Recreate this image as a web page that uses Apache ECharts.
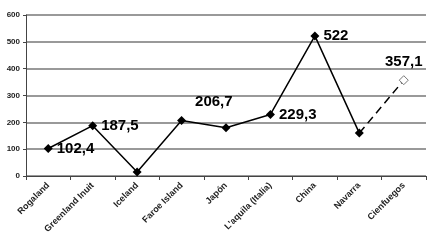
<!DOCTYPE html>
<html><head><meta charset="utf-8">
<script src="https://cdn.jsdelivr.net/npm/echarts@6/dist/echarts.min.js"></script>
<style>html,body{margin:0;padding:0;background:#fff}#c{width:433px;height:250px}</style>
</head><body><div id="c"></div>
<script>
const categories = ['Rogaland','Greenland Inuit','Iceland','Faroe Island','Japón',"L'aquila (Italia)",'China','Navarra','Cienfuegos'];
const values = [102.4, 187.5, 15, 206.7, 180, 229.3, 522, 160, 357.1];
const labelled = [0, 1, 3, 5, 6, 8];
const yTicks = [0, 100, 200, 300, 400, 500, 600];

const fmt = v => String(v).replace('.', ',');
const labelPos = {0:'right',1:'right',3:[18,-22],5:'right',6:'right',8:'top'};

const solid = values.map((v,i) => {
  if (i > 7) return null;
  const item = {value: v};
  if (labelled.includes(i)) {
    item.label = {show: true, position: labelPos[i], formatter: p => fmt(p.value)};
  }
  return item;
});
const dashed = values.map((v,i) => {
  if (i < 7) return null;
  const item = {value: v};
  if (i === 8) {
    item.label = {show: true, position: labelPos[i], offset:[0,-2], formatter: p => fmt(p.value)};
    item.symbol = 'diamond';
    item.itemStyle = {color: '#fff', borderColor: '#777', borderWidth: 1};
    item.symbolSize = 9;
  } else {
    item.symbol = 'none';
  }
  return item;
});

const labelStyle = {fontFamily: 'Liberation Sans Narrow, Liberation Sans, sans-serif', fontWeight: 'bold', fontSize: 15, color: '#000', distance: 4};

const chart = echarts.init(document.getElementById('c'), null, {renderer: 'canvas'});
chart.setOption({
  animation: false,
  grid: {left: 26, right: 7, top: 15, bottom: 74},
  xAxis: {
    type: 'category', data: categories, boundaryGap: true,
    axisLine: {lineStyle: {color: '#444', width: 1}},
    axisTick: {show: true, length: 4, lineStyle: {color: '#444'}},
    axisLabel: {rotate: 45, interval: 0, fontSize: 9, fontWeight: 'bold', color: '#222', fontFamily: 'Liberation Sans Narrow, Liberation Sans, sans-serif', margin: 8}
  },
  yAxis: {
    type: 'value', min: 0, max: 600, interval: 100,
    axisLine: {show: true, lineStyle: {color: '#444', width: 1}},
    axisTick: {show: true, length: 3, lineStyle: {color: '#444'}},
    splitLine: {lineStyle: {color: '#777', width: 1.5}},
    axisLabel: {fontSize: 8, fontWeight: 'bold', color: '#222', fontFamily: 'Liberation Sans, sans-serif', margin: 6,
      formatter: v => yTicks.includes(v) ? String(v) : ''}
  },
  series: [
    {type: 'line', data: solid, symbol: 'diamond', symbolSize: 9,
     itemStyle: {color: '#000'}, lineStyle: {color: '#000', width: 1.5}, label: labelStyle, z: 3},
    {type: 'line', data: dashed, symbolSize: 9,
     itemStyle: {color: '#000'}, lineStyle: {color: '#000', width: 1.5, type: [8, 5]}, label: labelStyle, z: 2}
  ]
});
</script></body></html>
